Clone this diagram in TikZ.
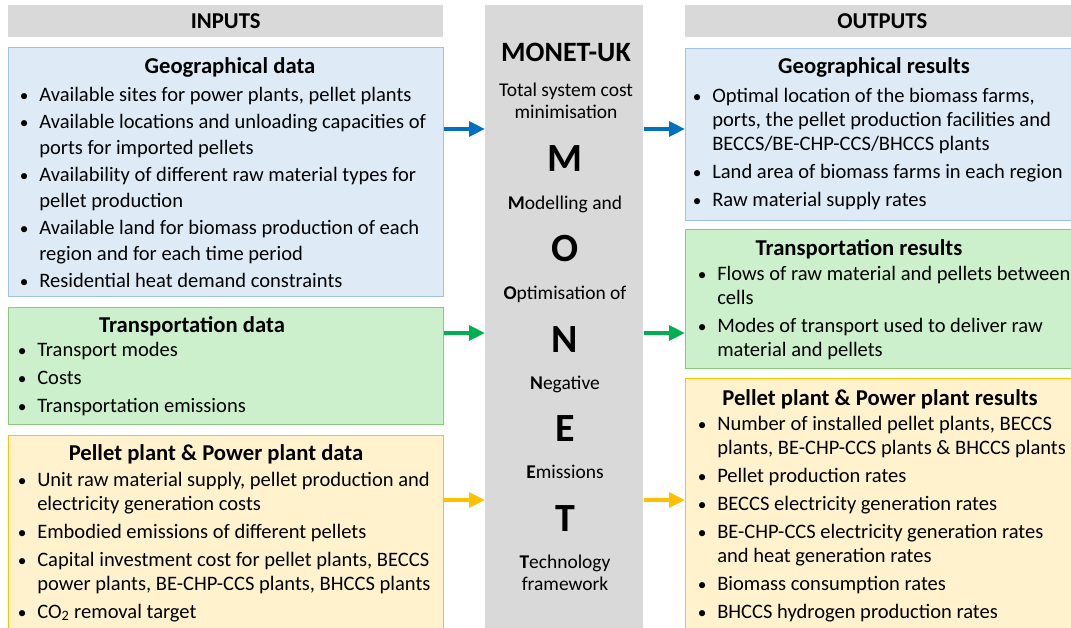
\documentclass[tikz,border=0pt]{standalone}
\usepackage{fontspec}
\setmainfont{Carlito}
\usetikzlibrary{arrows.meta}

\definecolor{hdrgray}{HTML}{D9D9D9}
\definecolor{geofill}{HTML}{DEEBF7}
\definecolor{geoline}{HTML}{9DC3E6}
\definecolor{trfill}{HTML}{CCF0CC}
\definecolor{trline}{HTML}{8CC97A}
\definecolor{plfill}{HTML}{FFF2CC}
\definecolor{plline}{HTML}{FFC000}
\definecolor{arrblue}{HTML}{0070C0}
\definecolor{arrgreen}{HTML}{00B050}
\definecolor{arryellow}{HTML}{FFC000}

% bullet hanging to the left of an item line
\newcommand{\itembul}{\strut\llap{{\fontsize{13}{13}\selectfont\textbullet}\hspace{8pt}}}

\begin{document}
\begin{tikzpicture}[
        x=0.75pt, y=-0.75pt,
        header/.style={fill=hdrgray, inner sep=0pt, anchor=north west,
                       minimum height=24pt},
        headtext/.style={font=\fontsize{17}{20}\selectfont\bfseries},
        panel/.style={line width=0.8pt, inner sep=0pt, anchor=north west,
                      minimum width=326.25pt},
        rpanel/.style={panel, minimum width=295.5pt},
        title/.style={anchor=base, inner sep=0pt,
                      font=\fontsize{17}{20}\selectfont\bfseries},
        items/.style={anchor=north west, align=left, inner sep=0pt,
                      font=\fontsize{15.4}{18}\selectfont},
        word/.style={anchor=north, align=center, inner sep=0pt,
                     font=\fontsize{14.6}{16.5}\selectfont},
        letter/.style={anchor=base, inner sep=0pt,
                       font=\fontsize{30}{36}\selectfont\bfseries},
        flow/.style={line width=3pt, -{Triangle[length=12pt,width=11pt]}},
    ]
    \useasboundingbox (0,0) rectangle (1071,628);

    % --- Headers and the model column ---------------------------------------
    \node[header, minimum width=326.25pt] (inputs) at (8,5) {};
    \node[headtext] at (inputs.center) {INPUTS};
    \node[header, minimum width=295.5pt] (outputs) at (685,5) {};
    \node[headtext] at (outputs.center) {OUTPUTS};
    \node[header, minimum width=118.5pt, minimum height=476.25pt]
        (monet) at (485,5) {};

    % --- Input panels ------------------------------------------------------
    \node[panel, fill=geofill, draw=geoline, minimum height=186.75pt]
        (geoin) at (8,47) {};
    \node[panel, fill=trfill, draw=trline, minimum height=87.75pt]
        (trin) at (8,307) {};
    \node[panel, fill=plfill, draw=plline, minimum height=153.75pt]
        (plin) at (8,435) {};

    % --- Output panels -----------------------------------------------------
    \node[rpanel, fill=geofill, draw=geoline, minimum height=129pt]
        (geoout) at (685,48) {};
    \node[rpanel, fill=trfill, draw=trline, minimum height=104.25pt]
        (trout) at (685,229) {};
    \node[rpanel, fill=plfill, draw=plline, minimum height=196.5pt]
        (plout) at (685,378) {};

    % panel titles
    \node[title] at (230,73) {Geographical data};
    \node[title] at (192,332) {Transportation data};
    \node[title] at (216,460) {Pellet plant \& Power plant data};
    \node[title] at (874,73) {Geographical results};
    \node[title] at (859,255) {Transportation results};
    \node[title] at (880,405) {Pellet plant \& Power plant results};

    % panel contents
    \node[items, font=\fontsize{15.4}{19}\selectfont] (geoinlist) at (39,83) {%
        \itembul Available sites for power plants, pellet plants\\[1.8pt]
        \itembul Available locations and unloading capacities of\\
        ports for imported pellets\\[1.8pt]
        \itembul Availability of different raw material types for\\
        pellet production\\[1.8pt]
        \itembul Available land for biomass production of each\\
        region and for each time period\\[1.8pt]
        \itembul Residential heat demand constraints};
    \node[items] (trinlist) at (37,339) {%
        \itembul Transport modes\\[3pt]
        \itembul Costs\\[3pt]
        \itembul Transportation emissions};
    \node[items] (plinlist) at (37,469) {%
        \itembul Unit raw material supply, pellet production and\\
        electricity generation costs\\[3pt]
        \itembul Embodied emissions of different pellets\\[3pt]
        \itembul Capital investment cost for pellet plants, BECCS\\
        power plants, BE-CHP-CCS plants, BHCCS plants\\[3pt]
        \itembul CO\textsubscript{2} removal target};
    \node[items] (geooutlist) at (712,85) {%
        \itembul Optimal location of the biomass farms,\\
        ports, the pellet production facilities and\\
        BECCS/BE-CHP-CCS/BHCCS plants\\[3pt]
        \itembul Land area of biomass farms in each region\\[3pt]
        \itembul Raw material supply rates};
    \node[items] (troutlist) at (717,263) {%
        \itembul Flows of raw material and pellets between\\
        cells\\[3pt]
        \itembul Modes of transport used to deliver raw\\
        material and pellets};
    \node[items] (ploutlist) at (717,413) {%
        \itembul Number of installed pellet plants, BECCS\\
        plants, BE-CHP-CCS plants \& BHCCS plants\\[3pt]
        \itembul Pellet production rates\\[3pt]
        \itembul BECCS electricity generation rates\\[3pt]
        \itembul BE-CHP-CCS electricity generation rates\\
        and heat generation rates\\[3pt]
        \itembul Biomass consumption rates\\[3pt]
        \itembul BHCCS hydrogen production rates};

    % --- Model column text ---------------------------------------------------
    \node[anchor=base, inner sep=0pt, font=\fontsize{21}{25}\selectfont\bfseries]
        (name) at (566,61) {MONET-UK};
    \node[word] (aim) at (566,81) {\strut Total system cost\\minimisation};
    \node[letter] (lm) at (565,171) {M};
    \node[word] (wm) at (565,194) {\strut\textbf{M}odelling and};
    \node[letter] (lo) at (565,261) {O};
    \node[word] (wo) at (565,284) {\strut\textbf{O}ptimisation of};
    \node[letter] (ln) at (565,352) {N};
    \node[word] (wn) at (565,374) {\strut\textbf{N}egative};
    \node[letter] (le) at (565,441) {E};
    \node[word] (we) at (565,463) {\strut\textbf{E}missions};
    \node[letter] (lt) at (565,531) {T};
    \node[word] (wt) at (565,553) {\strut\textbf{T}echnology\\framework};

    % --- Flow arrows ---------------------------------------------------------
    \coordinate (lvlgeo) at (0,129);
    \coordinate (lvltr) at (0,333);
    \coordinate (lvlpl) at (0,500);
    \draw[flow, arrblue] (geoin.east |- lvlgeo) -- (monet.west |- lvlgeo);
    \draw[flow, arrblue] (monet.east |- lvlgeo) -- (geoout.west |- lvlgeo);
    \draw[flow, arrgreen] (trin.east |- lvltr) -- (monet.west |- lvltr);
    \draw[flow, arrgreen] (monet.east |- lvltr) -- (trout.west |- lvltr);
    \draw[flow, arryellow] (plin.east |- lvlpl) -- (monet.west |- lvlpl);
    \draw[flow, arryellow] (monet.east |- lvlpl) -- (plout.west |- lvlpl);

\end{tikzpicture}
\end{document}
